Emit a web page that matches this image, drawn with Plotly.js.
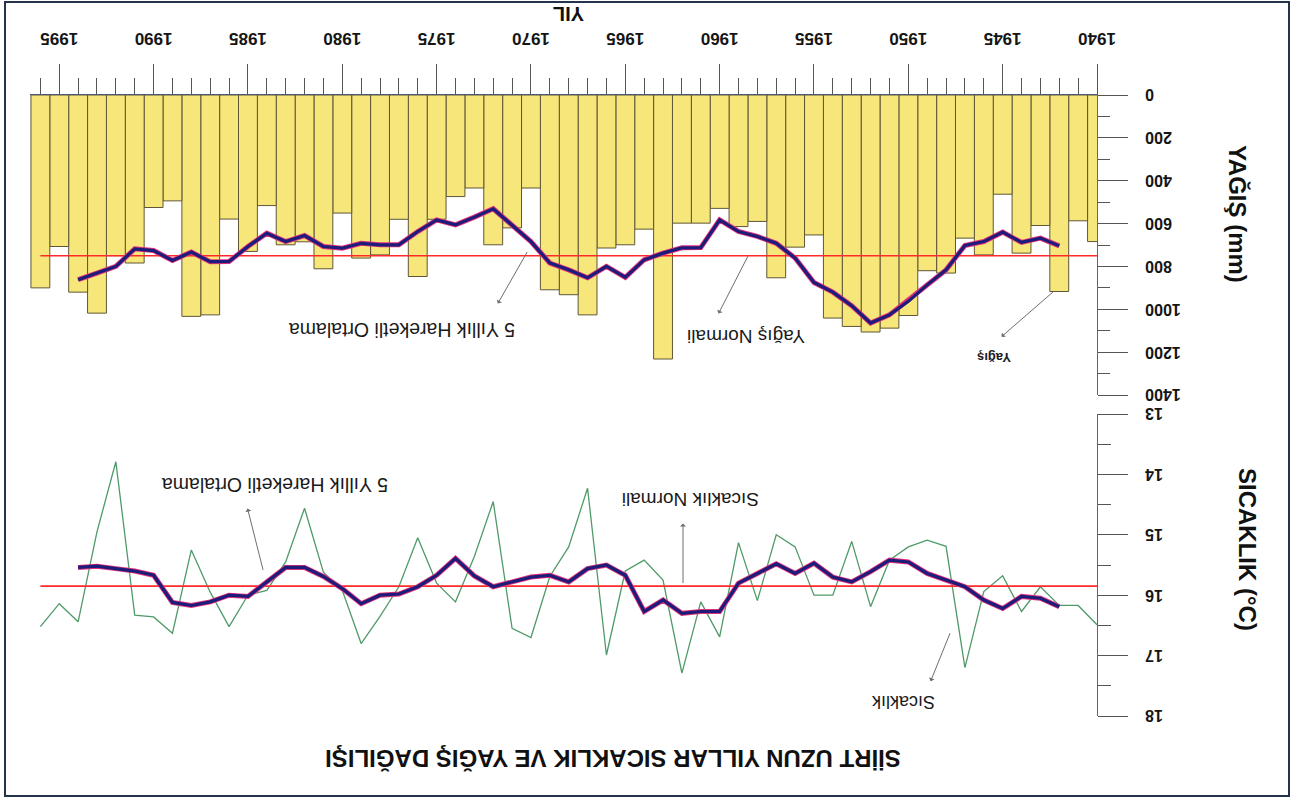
<!DOCTYPE html>
<html>
<head>
<meta charset="utf-8">
<script src="https://cdn.plot.ly/plotly-3.0.1.min.js"></script>
<style>
html,body{margin:0;padding:0;background:#fff;overflow:hidden;}
#wrap{position:absolute;left:0;top:0;width:1298px;height:799px;transform:rotate(180deg);transform-origin:50% 50%;background:#fff;}
#chart{position:absolute;left:0;top:0;width:1298px;height:799px;}
#frame{position:absolute;left:8px;top:2px;width:1282px;height:792px;border:2px solid #24344c;pointer-events:none;}
</style>
</head>
<body>
<div id="wrap"><div id="chart"></div><div id="frame"></div></div>
<script>
// ---- data ----
const years = [1940,1941,1942,1943,1944,1945,1946,1947,1948,1949,1950,1951,1952,1953,1954,1955,1956,1957,1958,1959,1960,1961,1962,1963,1964,1965,1966,1967,1968,1969,1970,1971,1972,1973,1974,1975,1976,1977,1978,1979,1980,1981,1982,1983,1984,1985,1986,1987,1988,1989,1990,1991,1992,1993,1994,1995,1996];

const precipitation = [684,587,917,609,738,463,746,668,831,820,1029,1088,1106,1080,1041,653,710,853,590,614,529,598,598,1232,626,699,714,1026,932,909,434,620,699,434,474,580,847,580,746,761,551,811,685,699,516,730,579,1026,1033,494,525,784,750,1018,920,707,900];

const temperature = [16.49,16.17,16.17,15.86,16.27,15.68,15.94,17.20,15.19,15.09,15.20,15.42,16.19,15.11,16.00,16.00,15.20,15.00,16.09,15.13,16.69,16.11,17.29,15.75,15.42,15.60,16.99,14.23,15.20,15.69,16.70,16.55,14.45,15.36,16.11,15.80,15.05,15.86,16.35,16.80,15.92,15.62,14.56,15.45,15.92,16.00,16.52,15.95,15.25,16.63,16.36,16.33,13.79,14.95,16.44,16.14,16.52];

const maYears = [1942,1943,1944,1945,1946,1947,1948,1949,1950,1951,1952,1953,1954,1955,1956,1957,1958,1959,1960,1961,1962,1963,1964,1965,1966,1967,1968,1969,1970,1971,1972,1973,1974,1975,1976,1977,1978,1979,1980,1981,1982,1983,1984,1985,1986,1987,1988,1989,1990,1991,1992,1993,1994];

const precipMA5 = [704,668,688,640,684,702,816,886,963,1026,1064,983,920,875,761,692,660,637,583,712,713,738,769,851,800,853,816,784,684,606,531,570,606,583,637,699,699,692,715,707,656,684,645,707,777,778,733,772,726,718,800,831,862];

const tempMA5 = [16.19,16.05,16.02,16.22,16.08,15.86,15.75,15.64,15.45,15.42,15.61,15.78,15.70,15.47,15.64,15.48,15.64,15.80,16.27,16.27,16.30,16.08,16.27,15.67,15.50,15.56,15.78,15.67,15.70,15.78,15.86,15.68,15.39,15.67,15.86,15.98,16.00,16.14,15.89,15.69,15.54,15.54,15.78,16.02,16.00,16.11,16.17,16.12,15.67,15.60,15.56,15.52,15.54];

const normalYears = [1940, 1996];
const precipNormal = 750;
const tempNormal = 15.85;

const titleText = "SİİRT UZUN YILLAR SICAKLIK VE YAĞIŞ DAĞILIŞI";
const xTitle = "YIL";
const precipTitle = "YAĞIŞ (mm)";
const tempTitle = "SICAKLIK (°C)";

// ---- styling ----
const FONT = "Liberation Sans, Arial, Helvetica, sans-serif";
const NAVY = "#1c1c7a";
const SHADOW = "#e0307a";
const RED = "#ff2a2a";
const GREEN = "#4f9a68";

const traces = [
  {type:'bar', x:years, y:precipitation, xaxis:'x', yaxis:'y', width:1,
   marker:{color:'#f7e77a', line:{color:'#5e5636', width:1}}, cliponaxis:false, hoverinfo:'skip'},
  {type:'scatter', mode:'lines', x:normalYears, y:normalYears.map(()=>precipNormal), xaxis:'x', yaxis:'y',
   line:{color:RED, width:1.6}, hoverinfo:'skip'},
  {type:'scatter', mode:'lines', x:maYears, y:precipMA5, xaxis:'x', yaxis:'y',
   line:{color:SHADOW, width:5}, hoverinfo:'skip'},
  {type:'scatter', mode:'lines', x:maYears, y:precipMA5, xaxis:'x', yaxis:'y',
   line:{color:NAVY, width:3.2}, hoverinfo:'skip'},
  {type:'scatter', mode:'lines', x:years, y:temperature, xaxis:'x', yaxis:'y2',
   line:{color:GREEN, width:1.3}, hoverinfo:'skip'},
  {type:'scatter', mode:'lines', x:normalYears, y:normalYears.map(()=>tempNormal), xaxis:'x', yaxis:'y2',
   line:{color:RED, width:1.6}, hoverinfo:'skip'},
  {type:'scatter', mode:'lines', x:maYears, y:tempMA5, xaxis:'x', yaxis:'y2',
   line:{color:SHADOW, width:5}, hoverinfo:'skip'},
  {type:'scatter', mode:'lines', x:maYears, y:tempMA5, xaxis:'x', yaxis:'y2',
   line:{color:NAVY, width:3.2}, hoverinfo:'skip'}
];

const tickFont = {family:FONT, size:16, color:'#151515', weight:'bold'};

function arrow(x, y, ax, ay, yref){
  return {xref:'x', yref:yref, axref:'x', ayref:yref, x:x, y:y, ax:ax, ay:ay, text:'',
          showarrow:true, arrowside:'start', arrowhead:1, arrowsize:1.6, arrowwidth:1,
          arrowcolor:'#6e6e6e', standoff:0, startstandoff:0};
}
function label(text, x, y, yref, size, weight){
  return {xref:'x', yref:yref, x:x, y:y, text:text, showarrow:false, xanchor:'center', yanchor:'middle',
          font:{family:FONT, size:size, color:'#1a1a1a', weight:weight||'normal'}};
}

const layout = {
  width:1298, height:799,
  margin:{l:201, r:30, t:83, b:95},
  paper_bgcolor:'rgba(0,0,0,0)', plot_bgcolor:'rgba(0,0,0,0)',
  showlegend:false, bargap:0,
  title:{text:titleText, x:685/1298, xanchor:'center', xref:'container', y:1-41/799, yanchor:'middle', yref:'container',
         font:{family:FONT, size:24, color:'#111', weight:'bold'}},
  xaxis:{range:[1940, 1996.55], tickmode:'linear', tick0:1940, dtick:5,
         ticks:'outside', ticklen:30, tickwidth:1, tickcolor:'#555',
         minor:{dtick:1, tick0:1940, ticks:'outside', ticklen:16, tickwidth:1, tickcolor:'#555'},
         showline:true, linecolor:'#4a5a78', linewidth:1.5, showgrid:false, zeroline:false,
         tickfont:{family:FONT, size:17, color:'#151515', weight:'bold'}, ticklabelstandoff:10,
         anchor:'y', fixedrange:true},
  yaxis:{domain:[0, 300/621], range:[0,1400], tickmode:'linear', tick0:0, dtick:200,
         ticks:'outside', ticklen:30, tickwidth:1, tickcolor:'#555',
         minor:{dtick:100, ticks:'outside', ticklen:12, tickwidth:1, tickcolor:'#555'},
         showline:true, linecolor:'#666', linewidth:1, showgrid:false, zeroline:false,
         tickfont:tickFont, ticklabelstandoff:14, anchor:'x'},
  yaxis2:{domain:[319/621, 1], range:[13,18], tickmode:'linear', tick0:13, dtick:1,
         ticks:'outside', ticklen:30, tickwidth:1, tickcolor:'#555',
         minor:{dtick:0.5, ticks:'outside', ticklen:13, tickwidth:1, tickcolor:'#555'},
         showline:true, linecolor:'#666', linewidth:1, showgrid:false, zeroline:false,
         tickfont:tickFont, ticklabelstandoff:14, anchor:'x'},
  annotations:[
    {xref:'paper', yref:'paper', x:(60-201)/1067, y:(704-585)/621, text:precipTitle, textangle:-90, showarrow:false,
     xanchor:'center', yanchor:'middle', font:{family:FONT, size:24, color:'#111', weight:'bold'}},
    {xref:'paper', yref:'paper', x:(51-201)/1067, y:(704-250)/621, text:tempTitle, textangle:-90, showarrow:false,
     xanchor:'center', yanchor:'middle', font:{family:FONT, size:24, color:'#111', weight:'bold'}},
    {xref:'paper', yref:'paper', x:(729-201)/1067, y:(704-785)/621, text:xTitle, showarrow:false,
     xanchor:'center', yanchor:'middle', font:{family:FONT, size:20, color:'#111', weight:'bold'}},
    // precipitation panel labels
    label('5 Yıllık Hareketli Ortalama', 1976.83, 1097, 'y', 19.5),
    arrow(1970.2, 733, 1971.8, 980, 'y'),
    label('Yağış Normali', 1958.6, 1125, 'y', 19),
    arrow(1958.5, 752, 1960.1, 1027, 'y'),
    label('Yağış', 1945.46, 1223, 'y', 13, 'bold'),
    arrow(1942.33, 919, 1945.14, 1134, 'y'),
    // temperature panel labels
    label('5 Yıllık Hareketli Ortalama', 1983.56, 14.18, 'y2', 19.5),
    arrow(1984.2, 15.58, 1985.04, 14.54, 'y2'),
    label('Sıcaklık Normali', 1961.57, 14.42, 'y2', 19),
    arrow(1961.94, 15.80, 1961.94, 14.79, 'y2'),
    label('Sıcaklık', 1950.28, 17.77, 'y2', 18),
    arrow(1947.79, 16.63, 1948.85, 17.45, 'y2')
  ]
};

Plotly.newPlot('chart', traces, layout, {displayModeBar:false, staticPlot:true});
</script>
</body>
</html>
